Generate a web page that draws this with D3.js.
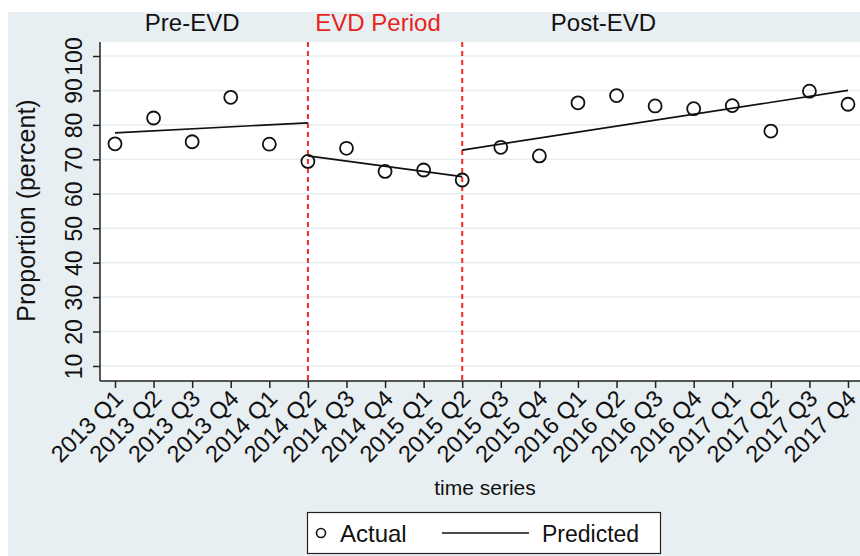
<!DOCTYPE html>
<meta charset="utf-8">
<body style="margin:0;background:#fff">
<script src="https://d3js.org/d3.v7.min.js"></script>
<script>
    // quarters on the x axis
    var quarters = ["2013 Q1","2013 Q2","2013 Q3","2013 Q4","2014 Q1","2014 Q2","2014 Q3","2014 Q4",
        "2015 Q1","2015 Q2","2015 Q3","2015 Q4","2016 Q1","2016 Q2","2016 Q3","2016 Q4",
        "2017 Q1","2017 Q2","2017 Q3","2017 Q4"];
    // observed proportions (percent)
    var actual = [74.5, 82, 75.1, 88, 74.4, 69.4, 73.2, 66.5, 66.9, 64,
        73.5, 71, 86.4, 88.5, 85.5, 84.7, 85.6, 78.2, 89.8, 86];
    // fitted segments, one per period: [start quarter, end quarter, start value, end value]
    var predPre  = ["2013 Q1", "2014 Q2", 77.7, 80.6];
    var predEvd  = ["2014 Q2", "2015 Q2", 71.0, 65.0];
    var predPost = ["2015 Q2", "2017 Q4", 72.7, 90.0];
    var yTicks = [10, 20, 30, 40, 50, 60, 70, 80, 90, 100];
    var breaks = ["2014 Q2", "2015 Q2"];
    // header labels, placed over a quarter of their period
    var periodLabels = ["Pre-EVD", "EVD Period", "Post-EVD"];
    var periodAnchors = ["2013 Q3", "2014 Q4", "2016 Q2"];

    var W = 860, H = 556;
    var plot = {left: 100, right: 860, top: 42, bottom: 381};
    var font = "'Liberation Sans', Arial, Helvetica, sans-serif";
    var labelShift = [0, -7, -13];
    var labelColor = ["#111", "#e8231b", "#111"];

    var svg = d3.select("body").append("svg")
        .attr("width", W).attr("height", H)
        .style("font-family", font);

    // light blue outer background
    svg.append("rect").attr("x", 8).attr("y", 12)
        .attr("width", W - 8).attr("height", H - 12)
        .attr("fill", "#e8eff3");
    // white plot region
    svg.append("rect").attr("x", plot.left).attr("y", plot.top)
        .attr("width", plot.right - plot.left).attr("height", plot.bottom - plot.top)
        .attr("fill", "#fff");

    var x = d3.scalePoint().domain(quarters).range([115, 848]);
    var y = d3.scaleLinear().domain([5.64, 104.07]).range([plot.bottom, plot.top]);

    // gridlines
    svg.append("g").selectAll("line").data(yTicks).join("line")
        .attr("x1", plot.left).attr("x2", plot.right)
        .attr("y1", d => y(d)).attr("y2", d => y(d))
        .attr("stroke", "#e6edf2").attr("stroke-width", 1.5);

    // y axis
    var yAxis = svg.append("g")
        .attr("transform", "translate(" + plot.left + ",0)")
        .call(d3.axisLeft(y).tickValues(yTicks).tickSize(7).tickPadding(10));
    yAxis.select(".domain").attr("d", "M0," + plot.top + "V" + plot.bottom)
        .attr("stroke", "#222").attr("stroke-width", 1.5);
    yAxis.selectAll(".tick line").attr("stroke", "#222").attr("stroke-width", 1.5);
    yAxis.selectAll(".tick text")
        .attr("font-size", 23).attr("fill", "#111").attr("font-family", font)
        .attr("text-anchor", "middle")
        .attr("transform", "translate(-26.5,0) rotate(-90)")
        .attr("x", 0).attr("dy", "0.36em");

    // x axis
    var xAxis = svg.append("g")
        .attr("transform", "translate(0," + plot.bottom + ")")
        .call(d3.axisBottom(x).tickSize(7).tickPadding(4));
    xAxis.select(".domain").attr("d", "M" + plot.left + ",0H" + plot.right)
        .attr("stroke", "#222").attr("stroke-width", 1.5);
    xAxis.selectAll(".tick text")
        .attr("font-size", 23.5).attr("fill", "#111").attr("font-family", font)
        .attr("text-anchor", "end")
        .attr("y", 0).attr("dy", 0)
        .attr("transform", "translate(9,19) rotate(-45)");
    xAxis.selectAll(".tick line").attr("stroke", "#222").attr("stroke-width", 1.5);

    // period breaks
    svg.append("g").selectAll("line").data(breaks).join("line")
        .attr("x1", d => x(d)).attr("x2", d => x(d))
        .attr("y1", plot.top).attr("y2", plot.bottom)
        .attr("stroke", "#ee2a24").attr("stroke-width", 2)
        .attr("stroke-dasharray", "5,4");

    // period labels in header strip
    svg.append("g").selectAll("text").data(periodLabels).join("text")
        .attr("x", (d, i) => x(periodAnchors[i]) + labelShift[i])
        .attr("y", 31)
        .attr("text-anchor", "middle")
        .attr("font-size", 24)
        .attr("fill", (d, i) => labelColor[i])
        .text(d => d);

    // predicted lines
    var segs = [predPre, predEvd, predPost];
    svg.append("g").selectAll("line").data(segs).join("line")
        .attr("x1", d => x(d[0])).attr("y1", d => y(d[2]))
        .attr("x2", d => x(d[1])).attr("y2", d => y(d[3]))
        .attr("stroke", "#111").attr("stroke-width", 1.7);

    // actual points
    svg.append("g").selectAll("circle").data(actual).join("circle")
        .attr("cx", (d, i) => x(quarters[i]))
        .attr("cy", d => y(d))
        .attr("r", 6.5)
        .attr("fill", "none")
        .attr("stroke", "#111").attr("stroke-width", 1.8);

    // axis titles
    svg.append("text")
        .attr("transform", "translate(34.5," + ((plot.top + plot.bottom) / 2 - 1) + ") rotate(-90)")
        .attr("text-anchor", "middle")
        .attr("font-size", 25).attr("fill", "#111")
        .text("Proportion (percent)");
    svg.append("text")
        .attr("x", 485).attr("y", 495)
        .attr("text-anchor", "middle")
        .attr("font-size", 21).attr("fill", "#111")
        .text("time series");

    // legend
    var lg = svg.append("g");
    lg.append("rect").attr("x", 307.5).attr("y", 512.5).attr("width", 353).attr("height", 41)
        .attr("fill", "#fff").attr("stroke", "#222").attr("stroke-width", 1.2);
    lg.append("circle").attr("cx", 321).attr("cy", 533).attr("r", 4.5)
        .attr("fill", "none").attr("stroke", "#111").attr("stroke-width", 1.6);
    lg.append("text").attr("x", 340).attr("y", 542).attr("font-size", 24).attr("fill", "#111").text("Actual");
    lg.append("line").attr("x1", 442).attr("x2", 529).attr("y1", 533).attr("y2", 533)
        .attr("stroke", "#111").attr("stroke-width", 1.7);
    lg.append("text").attr("x", 542).attr("y", 542).attr("font-size", 23).attr("fill", "#111").text("Predicted");
</script>
</body>
